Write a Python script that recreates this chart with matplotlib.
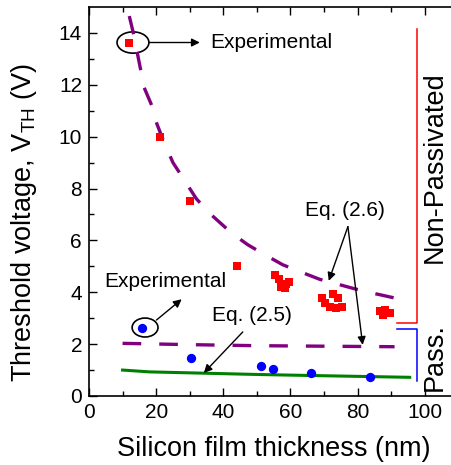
import numpy as np
import matplotlib
matplotlib.use('Agg')
import matplotlib.pyplot as plt
from matplotlib.patches import Ellipse

plt.rcParams['font.family'] = ['Liberation Sans', 'DejaVu Sans']
plt.rcParams['mathtext.default'] = 'regular'

# measured points, non-passivated (red squares)
np_x = [12, 21, 30, 44, 55.4, 56.5, 57.3, 58.3, 59.5, 58.8,
        69.5, 70.2, 72.7, 74.2, 71.9, 75.2, 73.7,
        86.6, 88.1, 89.6, 87.6]
np_y = [13.6, 10.0, 7.5, 5.0, 4.65, 4.5, 4.2, 4.15, 4.4, 4.3,
        3.77, 3.59, 3.94, 3.78, 3.45, 3.45, 3.38,
        3.26, 3.32, 3.19, 3.13]

# measured points, passivated (blue circles)
p_x = [15.7, 30.5, 51.2, 54.9, 66.1, 83.6]
p_y = [2.64, 1.45, 1.17, 1.03, 0.9, 0.72]

# Eq. (2.6), non-passivated
eq26a_x = [12, 13.2, 15.2, 16.4, 18.7, 20.2, 22.3, 25, 28, 32, 36.3,
           42.3, 47.3, 53, 57.7, 63.7, 68.7, 74.4, 79.2, 85.4, 91]
eq26a_y = [14.65, 14.0, 12.7, 11.9, 11.2, 10.5, 9.8, 9.0, 8.4, 7.6, 7.0,
           6.3, 5.83, 5.4, 5.06, 4.75, 4.5, 4.3, 4.13, 3.94, 3.78]

# Eq. (2.6), passivated
eq26b_x = [10, 30, 50, 70, 91]
eq26b_y = [2.03, 1.98, 1.94, 1.92, 1.9]

# Eq. (2.5)
eq25_x = [10, 18, 34, 50, 66, 83, 95.5]
eq25_y = [1.0, 0.93, 0.88, 0.83, 0.79, 0.75, 0.72]

fig = plt.figure(figsize=(4.51, 4.65), dpi=100)
ax = fig.add_axes([0.1973, 0.1484, 0.8027, 0.8366])

dash = (0, (5.6, 5.4))
ax.plot(eq26a_x, eq26a_y, color='#800080', lw=2.4, linestyle=dash)
ax.plot(eq26b_x, eq26b_y, color='#800080', lw=2.4, linestyle=dash)
ax.plot(eq25_x, eq25_y, color='#008000', lw=2.2)
ax.plot(np_x, np_y, 's', color='#ff0000', ms=5.5, mew=0)
ax.plot(p_x, p_y, 'o', color='#0000ff', ms=6.7, mew=0)

ax.set_xlim(0, 107.8)
ax.set_ylim(0, 15)
ax.set_xticks(np.arange(0, 101, 20))
ax.set_xticks(np.arange(10, 101, 10), minor=True)
ax.set_yticks(np.arange(0, 15, 2))
ax.set_yticks(np.arange(1, 15, 2), minor=True)
ax.spines['right'].set_visible(False)
for s in ['left', 'bottom', 'top']:
    ax.spines[s].set_linewidth(1.2)
ax.tick_params(which='both', direction='in', top=True, right=False,
               labelsize=15, pad=5, width=1)
ax.tick_params(which='major', length=6)
ax.tick_params(which='minor', length=3.7)

ax.set_xlabel('Silicon film thickness (nm)', fontsize=19.5)
ax.set_ylabel('Threshold voltage, V$_{TH}$ (V)', fontsize=19.5)
ax.xaxis.set_label_coords(0.511, -0.103)
ax.yaxis.set_label_coords(-0.138, 0.447)

# annotations
ak = dict(arrowstyle='-|>', color='k', lw=1, mutation_scale=12,
          shrinkA=0, shrinkB=0)
ax.add_patch(Ellipse((13.1, 13.63), 9.5, 0.82, fill=False, lw=1.2, color='k'))
ax.annotate('', xy=(33.0, 13.63), xytext=(17.9, 13.63), arrowprops=ak)
ax.text(36, 13.63, 'Experimental', fontsize=15, va='center', ha='left')

ax.add_patch(Ellipse((16.7, 2.64), 7.7, 0.73, fill=False, lw=1.2, color='k'))
ax.annotate('', xy=(27.6, 3.73), xytext=(20.1, 2.93), arrowprops=ak)
ax.text(4.5, 4.4, 'Experimental', fontsize=15, va='center', ha='left')

ax.text(36.6, 3.1, 'Eq. (2.5)', fontsize=15, va='center', ha='left')
ax.annotate('', xy=(34.2, 0.89), xytext=(45.8, 2.47), arrowprops=ak)

ax.text(64.3, 7.14, 'Eq. (2.6)', fontsize=15, va='center', ha='left')
ax.annotate('', xy=(71.4, 4.44), xytext=(77.1, 6.53), arrowprops=ak)
ax.annotate('', xy=(81.5, 1.97), xytext=(77.1, 6.53), arrowprops=ak)

# brackets
ax.plot([91.7, 97.6, 97.6], [2.82, 2.82, 14.17], color='#ff0000', lw=1.1)
ax.plot([91.7, 97.6, 97.6], [2.59, 2.59, 0.58], color='#0000ff', lw=1.1)
ax.text(103, 8.84, 'Non-Passivated', fontsize=19.5, rotation=90,
        ha='center', va='center')
ax.text(103, 1.5, 'Pass.', fontsize=19.5, rotation=90,
        ha='center', va='center')

fig.savefig('out.png', dpi=100)
